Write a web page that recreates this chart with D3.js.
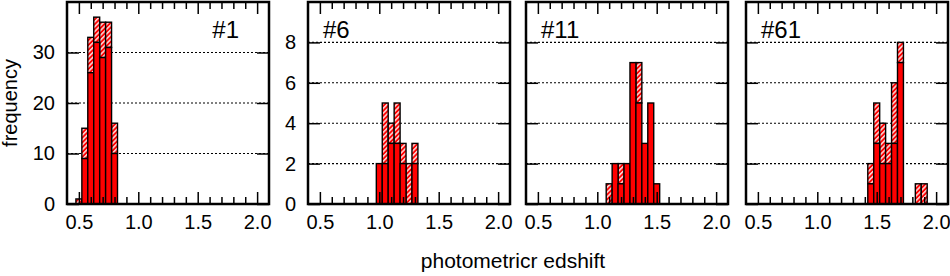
<!DOCTYPE html>
<html>
<head>
<meta charset="utf-8">
<script src="https://cdn.jsdelivr.net/npm/d3@7"></script>
<style>
  body { margin: 0; background: #fff; }
  text { font-family: "Liberation Sans", Arial, sans-serif; }
</style>
</head>
<body>
<div id="chart"></div>
<script>
var WIDTH = 950;
var HEIGHT = 276;

// data: bin centres, solid counts, total counts (hatched part = total - solid)
var panelNames = ["#1", "#6", "#11", "#61"];

var bins1  = [0.50, 0.55, 0.60, 0.65, 0.70, 0.75, 0.80];
var solid1 = [0, 9, 26, 32, 29, 31, 10];
var total1 = [1, 15, 33, 37, 36, 36, 16];

var bins6  = [1.00, 1.05, 1.10, 1.15, 1.20, 1.25, 1.30];
var solid6 = [2, 2, 3, 3, 2, 0, 2];
var total6 = [2, 5, 4, 5, 3, 2, 3];

var bins11  = [1.10, 1.15, 1.20, 1.25, 1.30, 1.35, 1.40, 1.45, 1.50];
var solid11 = [0, 2, 1, 2, 7, 5, 3, 5, 1];
var total11 = [1, 2, 2, 2, 7, 7, 3, 5, 1];

var bins61  = [1.45, 1.50, 1.55, 1.60, 1.65, 1.70, 1.85, 1.90];
var solid61 = [1, 3, 2, 2, 3, 7, 0, 0];
var total61 = [2, 5, 4, 3, 6, 8, 1, 1];

var xMajor = [0.5, 1.0, 1.5, 2.0];
var xMinor = [0.6, 0.7, 0.8, 0.9, 1.1, 1.2, 1.3, 1.4, 1.6, 1.7, 1.8, 1.9];
var yTicksBig = [0, 10, 20, 30];
var yTicksSmall = [0, 2, 4, 6, 8];

var BIN_W = 0.05;
var PANEL_LEFT = [67, 308, 526, 746];
var PANEL_W = 202;
var TOP = 2;
var BOTTOM = 204;

var panels = [
	{ name: panelNames[0], bins: bins1, solid: solid1, total: total1, ymax: 40, yticks: yTicksBig, ylabels: true },
	{ name: panelNames[1], bins: bins6, solid: solid6, total: total6, ymax: 10, yticks: yTicksSmall, ylabels: true },
	{ name: panelNames[2], bins: bins11, solid: solid11, total: total11, ymax: 10, yticks: yTicksSmall, ylabels: false },
	{ name: panelNames[3], bins: bins61, solid: solid61, total: total61, ymax: 10, yticks: yTicksSmall, ylabels: false }
];

var svg = d3.select("#chart")
			.append("svg")
			.attr("width", WIDTH)
			.attr("height", HEIGHT);

var pat = svg.append("defs").append("pattern")
			.attr("id", "hatch")
			.attr("patternUnits", "userSpaceOnUse")
			.attr("width", 3.4)
			.attr("height", 3.4)
			.attr("patternTransform", "rotate(45)");
pat.append("rect").attr("width", 3.4).attr("height", 3.4).attr("fill", "#ff0000");
pat.append("line").attr("x1", 0.8).attr("y1", 0).attr("x2", 0.8).attr("y2", 3.4)
	.attr("stroke", "#fff").attr("stroke-width", 1.3);

function styleAxis(g, fontSize) {
	g.select(".domain").remove();
	g.selectAll(".tick line").attr("stroke", "#000").attr("stroke-width", 1.5);
	g.selectAll(".tick text")
		.attr("fill", "#000")
		.attr("font-size", fontSize + "px")
		.attr("font-family", "'Liberation Sans', Arial, sans-serif");
}

panels.forEach(function(p, i) {
	var left = PANEL_LEFT[i];
	var x = d3.scaleLinear().domain([0.4, 2.1]).range([left, left + PANEL_W]);
	var y = d3.scaleLinear().domain([0, p.ymax]).range([BOTTOM, TOP]);
	var g = svg.append("g").attr("class", "panel");

	// dotted grid
	g.selectAll(".grid")
		.data(p.yticks.filter(function(d) { return d > 0; }))
		.enter().append("line")
		.attr("x1", left).attr("x2", left + PANEL_W)
		.attr("y1", function(d) { return y(d); })
		.attr("y2", function(d) { return y(d); })
		.attr("stroke", "#000")
		.attr("stroke-width", 1.1)
		.attr("stroke-dasharray", "2,2");

	var rows = p.bins.map(function(b, k) {
		return { bin: b, solid: p.solid[k], total: p.total[k] };
	});

	// hatched (total) bars
	g.selectAll(".tot")
		.data(rows.filter(function(d) { return d.total > d.solid; }))
		.enter().append("rect")
		.attr("x", function(d) { return x(d.bin - BIN_W / 2); })
		.attr("width", function(d) { return x(d.bin + BIN_W / 2) - x(d.bin - BIN_W / 2); })
		.attr("y", function(d) { return y(d.total); })
		.attr("height", function(d) { return y(d.solid) - y(d.total); })
		.attr("fill", "url(#hatch)")
		.attr("stroke", "#000")
		.attr("stroke-width", 1.4);

	// solid bars
	g.selectAll(".sol")
		.data(rows.filter(function(d) { return d.solid > 0; }))
		.enter().append("rect")
		.attr("x", function(d) { return x(d.bin - BIN_W / 2); })
		.attr("width", function(d) { return x(d.bin + BIN_W / 2) - x(d.bin - BIN_W / 2); })
		.attr("y", function(d) { return y(d.solid); })
		.attr("height", function(d) { return y(0) - y(d.solid); })
		.attr("fill", "#ff0000")
		.attr("stroke", "#000")
		.attr("stroke-width", 1.4);

	// axes
	g.append("g").attr("transform", "translate(0," + BOTTOM + ")")
		.call(d3.axisBottom(x).tickValues(xMajor).tickSize(-12).tickPadding(11).tickFormat(d3.format(".1f")))
		.call(styleAxis, 20);
	g.append("g").attr("transform", "translate(0," + BOTTOM + ")")
		.call(d3.axisBottom(x).tickValues(xMinor).tickSize(-7).tickFormat(""))
		.call(styleAxis, 20);
	g.append("g").attr("transform", "translate(0," + TOP + ")")
		.call(d3.axisTop(x).tickValues(xMajor).tickSize(-12).tickFormat(""))
		.call(styleAxis, 20);
	g.append("g").attr("transform", "translate(0," + TOP + ")")
		.call(d3.axisTop(x).tickValues(xMinor).tickSize(-7).tickFormat(""))
		.call(styleAxis, 20);

	var yl = d3.axisLeft(y).tickValues(p.yticks).tickSize(-12).tickPadding(12);
	if (!p.ylabels) yl.tickFormat("");
	g.append("g").attr("transform", "translate(" + left + ",0)")
		.call(yl)
		.call(styleAxis, 20);
	g.append("g").attr("transform", "translate(" + (left + PANEL_W) + ",0)")
		.call(d3.axisRight(y).tickValues(p.yticks).tickSize(-12).tickFormat(""))
		.call(styleAxis, 20);

	// frame
	g.append("rect")
		.attr("x", left).attr("y", TOP)
		.attr("width", PANEL_W).attr("height", BOTTOM - TOP)
		.attr("fill", "none")
		.attr("stroke", "#000")
		.attr("stroke-width", 2.5);

	// panel label
	g.append("text")
		.attr("x", i === 0 ? left + PANEL_W - 30 : left + 15)
		.attr("y", 38)
		.attr("text-anchor", i === 0 ? "end" : "start")
		.attr("font-size", "24px")
		.attr("fill", "#000")
		.text(p.name);
});

svg.append("text")
	.attr("transform", "translate(17,103) rotate(-90)")
	.attr("text-anchor", "middle")
	.attr("font-size", "20px")
	.attr("fill", "#000")
	.text("frequency");

svg.append("text")
	.attr("x", 513)
	.attr("y", 268)
	.attr("text-anchor", "middle")
	.attr("font-size", "21px")
	.attr("fill", "#000")
	.text("photometricr edshift");
</script>
</body>
</html>
